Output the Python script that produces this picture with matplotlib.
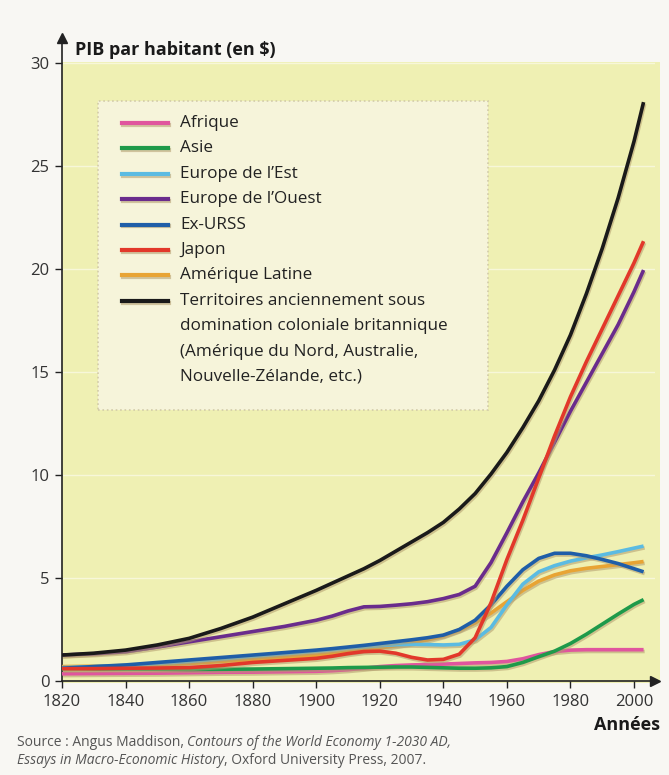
import matplotlib
matplotlib.use("Agg")
import matplotlib.pyplot as plt
import matplotlib.patheffects as pe
from matplotlib.patches import Rectangle
from matplotlib.lines import Line2D

plt.rcParams['font.family'] = ['Open Sans', 'DejaVu Sans']

# PIB par habitant (milliers de $)
years = [1820, 1830, 1840, 1850, 1860, 1870, 1880, 1890, 1900, 1905, 1910, 1915, 1920, 1925,
         1930, 1935, 1940, 1945, 1950, 1955, 1960, 1965, 1970, 1975, 1980, 1985, 1990, 1995,
         2000, 2003]

afrique = [0.35, 0.36, 0.37, 0.38, 0.40, 0.42, 0.43, 0.45, 0.47, 0.50, 0.55, 0.62, 0.70, 0.75,
           0.78, 0.80, 0.82, 0.85, 0.88, 0.90, 0.95, 1.08, 1.28, 1.43, 1.50, 1.52, 1.52, 1.52,
           1.52, 1.52]
asie = [0.58, 0.58, 0.58, 0.57, 0.56, 0.57, 0.58, 0.60, 0.62, 0.63, 0.65, 0.66, 0.67, 0.68,
        0.68, 0.66, 0.64, 0.62, 0.62, 0.64, 0.70, 0.90, 1.18, 1.45, 1.82, 2.27, 2.76, 3.25,
        3.72, 3.95]
europe_est = [0.65, 0.70, 0.75, 0.85, 0.95, 1.07, 1.20, 1.32, 1.45, 1.52, 1.60, 1.66, 1.72, 1.76,
              1.78, 1.77, 1.75, 1.78, 2.00, 2.60, 3.70, 4.70, 5.30, 5.60, 5.82, 5.98, 6.12, 6.28,
              6.45, 6.55]
europe_ouest = [1.26, 1.32, 1.42, 1.65, 1.90, 2.15, 2.40, 2.65, 2.95, 3.15, 3.40, 3.60, 3.62, 3.68,
                3.75, 3.85, 4.00, 4.20, 4.60, 5.75, 7.20, 8.70, 10.1, 11.6, 13.1, 14.5, 15.9, 17.3,
                18.9, 19.95]
ex_urss = [0.62, 0.70, 0.78, 0.90, 1.02, 1.14, 1.26, 1.38, 1.50, 1.57, 1.65, 1.73, 1.82, 1.91,
           2.00, 2.10, 2.23, 2.50, 2.95, 3.70, 4.60, 5.40, 5.95, 6.20, 6.20, 6.08, 5.90, 5.70,
           5.45, 5.30]
japon = [0.60, 0.60, 0.62, 0.63, 0.65, 0.75, 0.90, 1.00, 1.10, 1.20, 1.33, 1.43, 1.45, 1.35,
         1.15, 1.02, 1.05, 1.30, 2.10, 3.80, 5.90, 7.80, 9.85, 11.9, 13.8, 15.5, 17.1, 18.7,
         20.3, 21.35]
amerique_latine = [0.70, 0.72, 0.75, 0.80, 0.85, 0.95, 1.05, 1.15, 1.25, 1.32, 1.40, 1.50, 1.60, 1.72,
                   1.85, 2.00, 2.20, 2.48, 2.82, 3.30, 3.85, 4.40, 4.85, 5.15, 5.35, 5.47, 5.56, 5.65,
                   5.74, 5.80]
territoires = [1.26, 1.35, 1.50, 1.75, 2.07, 2.55, 3.10, 3.75, 4.40, 4.75, 5.10, 5.45, 5.85, 6.30,
               6.75, 7.20, 7.70, 8.35, 9.10, 10.05, 11.1, 12.3, 13.6, 15.1, 16.8, 18.8, 21.0, 23.45,
               26.2, 28.1]

labels = ["Afrique", "Asie", "Europe de l\u2019Est", "Europe de l\u2019Ouest", "Ex-URSS",
          "Japon", "Am\u00e9rique Latine",
          "Territoires anciennement sous\ndomination coloniale britannique\n"
          "(Am\u00e9rique du Nord, Australie,\nNouvelle-Z\u00e9lande, etc.)"]
series = [afrique, asie, europe_est, europe_ouest, ex_urss, japon, amerique_latine, territoires]
colors = ["#e0559e", "#1e9a4a", "#5bbbe2", "#6a2c8c", "#1f5ea8", "#e2382a", "#e8a434", "#1a1a1a"]

x_ticks = list(range(1820, 2001, 20))
y_ticks = [0, 5, 10, 15, 20, 25, 30]

W, H = 669, 775
fig = plt.figure(figsize=(W / 100, H / 100), dpi=100, facecolor="#f8f7f3")


def fx(px):
    return px / W


def fy(py):
    return 1 - py / H


shadow = [pe.SimpleLineShadow(offset=(0.8, -1.3), shadow_color="#b29c6c", alpha=0.55), pe.Normal()]

# yellow page background
fig.patches.append(Rectangle((fx(62), fy(683)), fx(660) - fx(62), fy(62) - fy(683),
                             transform=fig.transFigure, facecolor="#eff0b3",
                             edgecolor="none", zorder=-1))

ax = fig.add_axes([fx(62), fy(681), fx(655) - fx(62), fy(38) - fy(681)])
ax.set_facecolor("none")
ax.set_xlim(1820, 1820 + (655 - 62) / 3.178)
ax.set_ylim(0, (681 - 38) / 20.6)

draw_order = [0, 1, 6, 2, 4, 3, 5, 7]
for i in draw_order:
    ax.plot(years, series[i], color=colors[i], lw=2.6, solid_capstyle="butt",
            solid_joinstyle="round", path_effects=shadow, zorder=3)

ax.set_xticks(x_ticks)
ax.set_yticks(y_ticks)
ax.yaxis.grid(True, color="white", alpha=0.5, lw=1)
ax.set_axisbelow(True)
ax.tick_params(direction="out", length=5, width=1, color="#222", labelsize=12,
               labelcolor="#333", pad=4)
for s in ["top", "right"]:
    ax.spines[s].set_visible(False)
for s in ["left", "bottom"]:
    ax.spines[s].set_color("#222")
    ax.spines[s].set_linewidth(1.2)
ax.plot(1, 0, ">", color="#222", ms=7, transform=ax.get_yaxis_transform(), clip_on=False)
ax.plot(1820, 1, "^", color="#222", ms=7, transform=ax.get_xaxis_transform(), clip_on=False)

fig.text(fx(75), fy(50), "PIB par habitant (en \\$)", fontsize=13, fontweight="bold",
         va="center", color="#1a1a1a")
fig.text(fx(660), fy(725), "Ann\u00e9es", fontsize=13, fontweight="bold", ha="right",
         va="center", color="#1a1a1a")

# legend box
fig.patches.append(Rectangle((fx(98), fy(410)), fx(488) - fx(98), fy(101) - fy(410),
                             transform=fig.transFigure, facecolor="#f6f4da",
                             edgecolor="#d2cba8", ls=":", lw=1.2, zorder=2))
row_y = 123
for lab, c in zip(labels, colors):
    fig.add_artist(Line2D([fx(122), fx(168)], [fy(row_y), fy(row_y)], color=c, lw=3,
                          transform=fig.transFigure, path_effects=shadow, zorder=3))
    for part in lab.split("\n"):
        fig.text(fx(180), fy(row_y), part, fontsize=12.3, va="center", color="#222", zorder=3)
        row_y += 25.4

# source, with italics for the titles
renderer = fig.canvas.get_renderer()
src_lines = [[("Source : Angus Maddison,", "normal"),
              ("Contours of the World Economy 1-2030 AD,", "italic")],
             [("Essays in Macro-Economic History", "italic"),
              (", Oxford University Press, 2007.", "normal")]]
line_y = 743
for pieces in src_lines:
    x = fx(17)
    for k, (txt, style) in enumerate(pieces):
        t = fig.text(x, fy(line_y), txt, fontsize=10, style=style, color="#555", va="center")
        bb = t.get_window_extent(renderer)
        x = bb.x1 / W
        if k == 0 and not pieces[1][0].startswith(","):
            x += 3 / W
    line_y += 18

fig.savefig("out.png", dpi=100, facecolor=fig.get_facecolor())
